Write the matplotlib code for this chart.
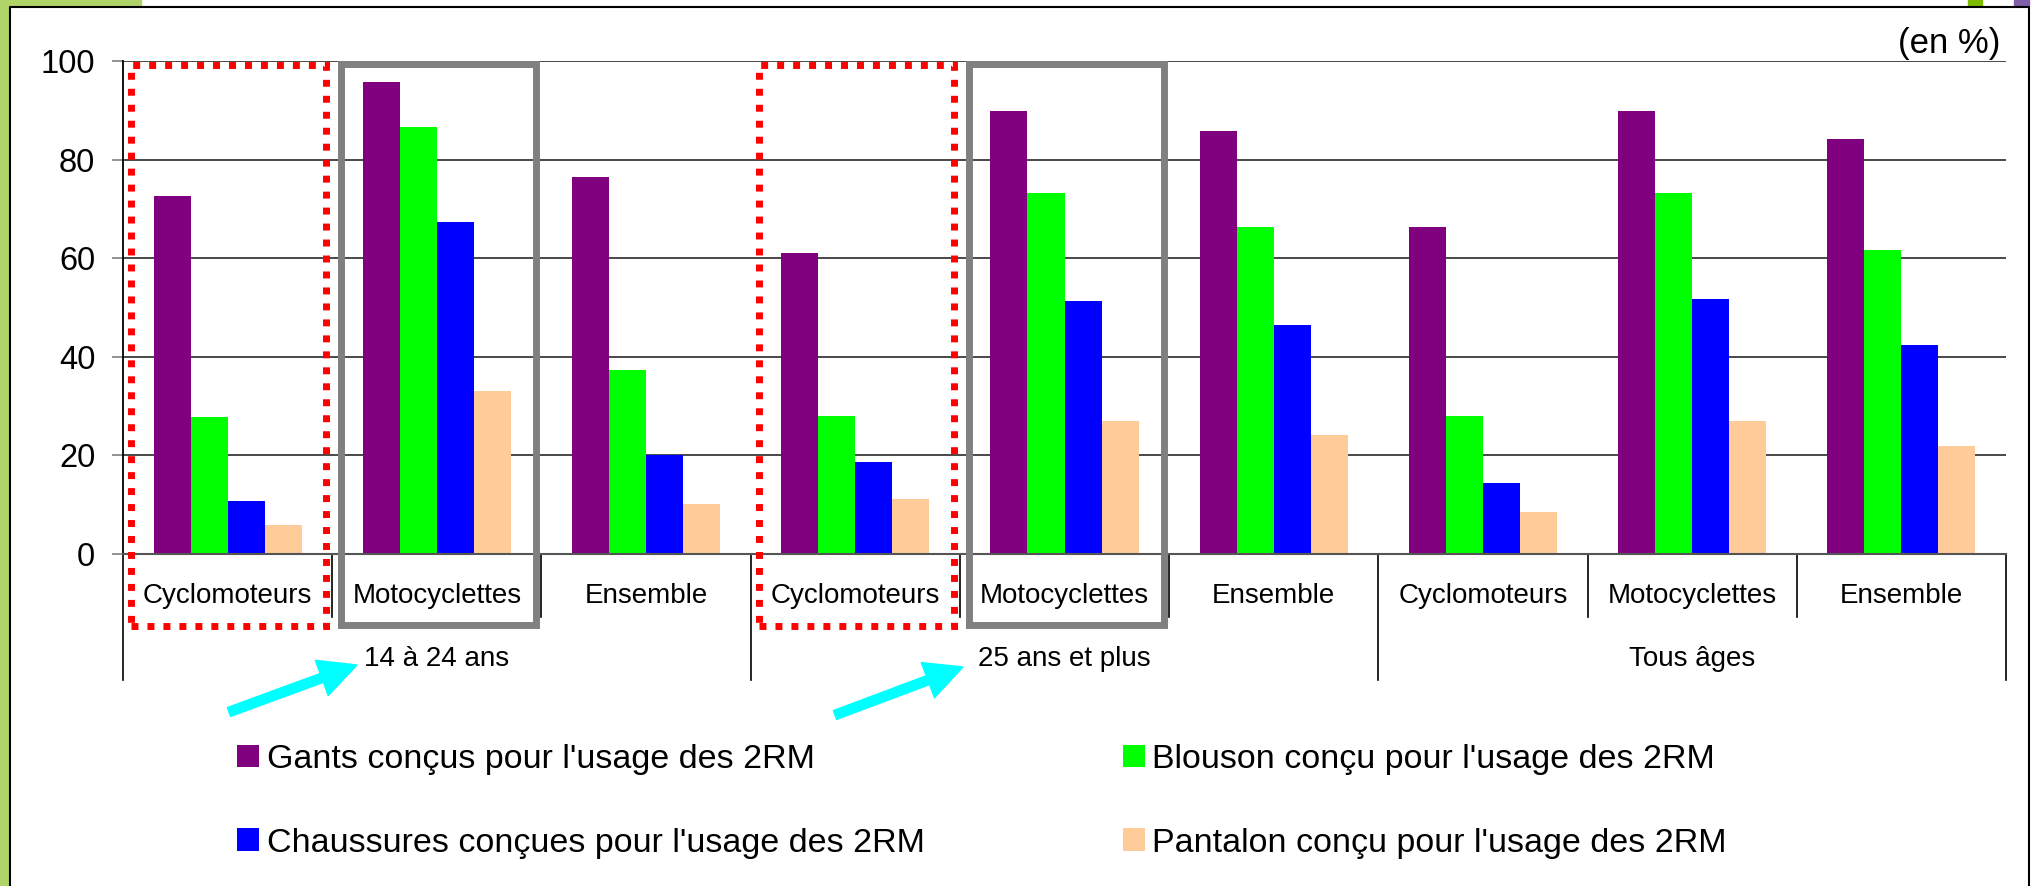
import numpy as np
import matplotlib
matplotlib.use("Agg")
import matplotlib.pyplot as plt
from matplotlib.patches import Rectangle
from matplotlib.lines import Line2D

plt.rcParams["font.family"] = ["Liberation Sans", "DejaVu Sans"]

# -----------------------------------------------------------------------------
# Data (en %)
# -----------------------------------------------------------------------------
categories = ["Cyclomoteurs", "Motocyclettes", "Ensemble"] * 3
age_groups = ["14 à 24 ans", "25 ans et plus", "Tous âges"]

gants      = [72.7, 95.8, 76.5, 61.0, 89.8, 85.7, 66.4, 89.8, 84.1]
blouson    = [27.8, 86.7, 37.4, 27.9, 73.3, 66.4, 27.9, 73.3, 61.6]
chaussures = [10.8, 67.4, 20.0, 18.7, 51.4, 46.5, 14.5, 51.8, 42.3]
pantalon   = [5.9, 33.1, 10.2, 11.2, 26.9, 24.2, 8.6, 26.9, 22.0]

series_labels = [
    "Gants conçus pour l'usage des 2RM",
    "Blouson conçu pour l'usage des 2RM",
    "Chaussures conçues pour l'usage des 2RM",
    "Pantalon conçu pour l'usage des 2RM",
]
colors = ["#800080", "#00FF00", "#0000FF", "#FFCC99"]

# -----------------------------------------------------------------------------
# Figure
# -----------------------------------------------------------------------------
W, H = 2034, 886
fig = plt.figure(figsize=(W / 100, H / 100), dpi=100)
ax = fig.add_axes([123 / W, 1 - 554 / H, (2006 - 123) / W, (554 - 61) / H])

x = np.arange(len(categories))
w = 0.177
for k, vals in enumerate([gants, blouson, chaussures, pantalon]):
    ax.bar(x + (k - 1.5) * w, vals, w, color=colors[k], label=series_labels[k], zorder=2)

ax.set_xlim(-0.5, len(categories) - 0.5)
ax.set_ylim(0, 100)
ax.set_yticks(np.arange(0, 101, 20))
ax.tick_params(axis="y", labelsize=23.5, length=8, width=1.2, color="#808080", pad=12)
ax.set_xticks([])
ax.yaxis.grid(True, color="#3a3a3a", linewidth=1.3)
ax.set_axisbelow(True)
for s in ["top", "right"]:
    ax.spines[s].set_visible(False)
ax.spines["left"].set_color("black")
ax.spines["left"].set_linewidth(1.3)
ax.spines["bottom"].set_color("#555555")
ax.spines["bottom"].set_linewidth(1.5)

# category / group table under the axis
for i, c in enumerate(categories):
    ax.text(i, -0.085, c, transform=ax.get_xaxis_transform(), ha="center",
            va="center", fontsize=20)
for g, name in enumerate(age_groups):
    ax.text(3 * g + 1, -0.213, name, transform=ax.get_xaxis_transform(),
            ha="center", va="center", fontsize=20)
for b in np.arange(-0.5, len(categories), 1.0):
    outer = (b + 0.5) % 3 == 0
    ax.axvline(b, ymin=-0.256 if outer else -0.128, ymax=0, color="black",
               linewidth=1.2, clip_on=False)

# highlight boxes
for c in [0, 3]:
    ax.add_patch(Rectangle((c - 0.462, -14.6), 0.932, 113.8, fill=False,
                           edgecolor="#FF0000", linewidth=5,
                           linestyle=(0, (1, 1.3)), clip_on=False, zorder=5))
for c in [1, 4]:
    ax.add_patch(Rectangle((c - 0.456, -14.4), 0.93, 113.8, fill=False,
                           edgecolor="#808080", linewidth=5, clip_on=False,
                           zorder=5))

# cyan arrows
for tail, tip in [((229, 712), (357, 665)), ((835, 715), (963, 667))]:
    ax.annotate("", xy=(tip[0] / W, 1 - tip[1] / H), xycoords="figure fraction",
                xytext=(tail[0] / W, 1 - tail[1] / H), textcoords="figure fraction",
                arrowprops=dict(arrowstyle="simple,head_width=27,head_length=27,tail_width=6.8",
                                mutation_scale=1, color="#00FFFF", shrinkA=0, shrinkB=0))

fig.text(2000 / W, 1 - 44 / H, "(en %)", ha="right", va="center", fontsize=25)

# legend
handles, labels = ax.get_legend_handles_labels()
order = [0, 2, 1, 3]
fig.legend([handles[i] for i in order], [labels[i] for i in order],
           loc="upper left", bbox_to_anchor=(237 / W, 1 - 744 / H), ncol=2,
           frameon=False, fontsize=24.5, handlelength=0.65, handleheight=0.65,
           handletextpad=0.22, columnspacing=5.83, labelspacing=1.55,
           borderaxespad=0, borderpad=0)

# page decoration
fig.patches.append(Rectangle((0, 0), 9 / W, 1, transform=fig.transFigure,
                             color="#B0D468", zorder=0))
fig.patches.append(Rectangle((0, 1 - 6 / H), 141 / W, 6 / H,
                             transform=fig.transFigure, color="#B0D468", zorder=0))
fig.patches.append(Rectangle((1968 / W, 1 - 6 / H), 14 / W, 6 / H,
                             transform=fig.transFigure, color="#7DBA00", zorder=0))
fig.patches.append(Rectangle((2014 / W, 1 - 6 / H), 15 / W, 6 / H,
                             transform=fig.transFigure, color="#7F5FA8", zorder=0))
fig.lines.append(Line2D([10 / W, 10 / W, 2029 / W, 2029 / W],
                        [0, 1 - 7 / H, 1 - 7 / H, 0], transform=fig.transFigure,
                        color="black", linewidth=1.5))

fig.savefig("out.png", dpi=100)
